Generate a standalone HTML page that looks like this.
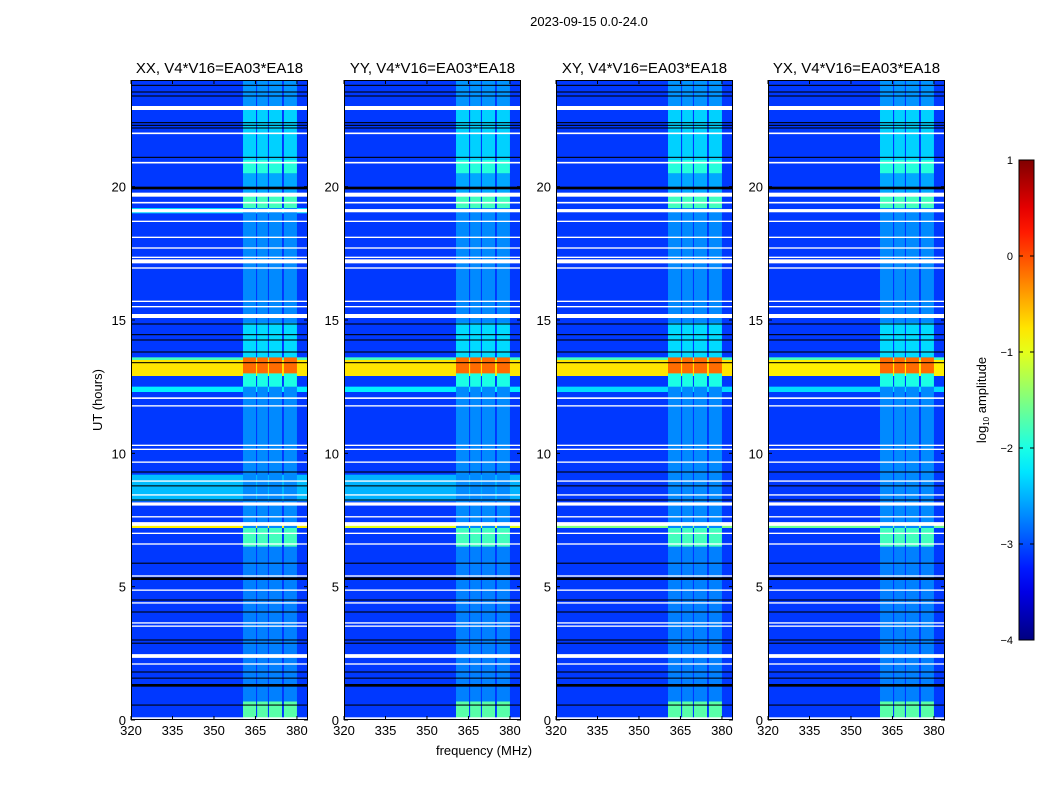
<!DOCTYPE html>
<html><head><meta charset="utf-8">
<style>
body{margin:0;background:#fff;width:1050px;height:800px;overflow:hidden;font-family:"Liberation Sans",sans-serif;}
svg text{font-family:"Liberation Sans",sans-serif;fill:#000;}
</style></head>
<body>
<svg id="fig" width="1050" height="800" xmlns="http://www.w3.org/2000/svg">
<text x="589" y="26" font-size="13" text-anchor="middle">2023-09-15 0.0-24.0</text>
<text x="102" y="400" font-size="13" text-anchor="middle" transform="rotate(-90 102 400)">UT (hours)</text>
<text x="484" y="755" font-size="13" text-anchor="middle">frequency (MHz)</text>
<g id="panels"></g>
<g id="cbar"></g>
</svg>
<script>
// ---- data ----
const panelTitles = ["XX, V4*V16=EA03*EA18","YY, V4*V16=EA03*EA18","XY, V4*V16=EA03*EA18","YX, V4*V16=EA03*EA18"];
const xTicks = [320,335,350,365,380];
const yTicks = [0,5,10,15,20];
const cbTicks = [1,0,-1,-2,-3,-4];
const baseLevel = -3.1;
// sub-band frequency edges (MHz)
const subStart = [360.5,365.6,369.9,375.3];
const subEnd   = [365.2,369.5,374.6,380.0];
// in-band level vs time segments (hours)
const bandT0 = [0, 0.7, 6.5, 7.2, 12.5, 13.0, 13.6, 14.9, 19.2, 19.7, 20.5, 21.0, 23.0];
const bandT1 = [0.7, 6.5, 7.2, 12.5, 13.0, 13.6, 14.9, 19.2, 19.7, 20.5, 21.0, 23.0, 24.0];
const bandLv = [-1.7,-2.75,-1.8,-2.7,-2.0,-0.15,-2.3,-2.7,-1.8,-2.55,-1.95,-2.35,-2.65];
// broadband events per panel (hours, level)
const bbT0 = [[12.9,13.5,12.3,8.2,7.2,19.0],[12.9,13.5,12.3,8.2,7.2],[12.9,13.5,12.3,7.2],[12.9,13.5,12.3,7.2]];
const bbT1 = [[13.5,13.6,12.5,9.2,7.3,19.2],[13.5,13.6,12.5,9.2,7.3],[13.5,13.6,12.5,7.3],[13.5,13.6,12.5,7.3]];
const bbLv = [[-0.75,-1.8,-2.2,-2.45,-0.8,-2.3],[-0.75,-1.8,-2.2,-2.5,-1.0],[-0.75,-1.8,-2.3,-1.5],[-0.8,-1.8,-2.3,-1.6]];
// flagged (white) rows: time centre, thickness (hours)
const flagT = [22.95,22.0,20.9,19.7,19.4,19.1,18.7,18.1,17.7,17.35,17.2,16.95,15.7,15.5,15.15,12.07,11.78,10.3,10.15,9.67,8.96,8.44,8.1,7.62,7.35,7.0,6.6,5.4,4.87,4.39,3.64,3.52,2.4,2.1,0.07];
const flagW = [0.15,0.06,0.06,0.15,0.06,0.12,0.05,0.05,0.05,0.05,0.15,0.05,0.05,0.05,0.15,0.06,0.05,0.05,0.05,0.05,0.05,0.05,0.12,0.05,0.14,0.05,0.05,0.05,0.05,0.05,0.05,0.05,0.14,0.05,0.06];
// black rows
const blackT = [23.8,23.55,23.4,22.4,22.3,22.2,21.1,19.95,14.85,14.45,14.25,13.8,13.4,9.3,8.78,8.25,5.88,5.3,4.5,4.05,3.0,2.88,1.8,1.57,1.3,0.56];
const blackW = [0.04,0.04,0.04,0.04,0.04,0.04,0.04,0.1,0.04,0.04,0.04,0.04,0.04,0.04,0.04,0.04,0.04,0.1,0.04,0.04,0.04,0.04,0.04,0.04,0.1,0.04];

// ---- geometry ----
const panelLeft=[131,344,556,768], PW=177, PT=80, PB=720;
const fMin=320,fMax=384,tMin=0,tMax=24;
function jet(v){const t=Math.max(0,Math.min(1,(v+4)/5));const c=x=>Math.round(255*Math.max(0,Math.min(1,1.5-Math.abs(x))));return `rgb(${c(4*t-3)},${c(4*t-2)},${c(4*t-1)})`;}
const NS="http://www.w3.org/2000/svg";
function mk(tag,attrs,parent){const e=document.createElementNS(NS,tag);for(const k in attrs)e.setAttribute(k,attrs[k]);parent.appendChild(e);return e;}
const panels=document.getElementById('panels');
panelTitles.forEach((title,p)=>{
  const L=panelLeft[p];
  const xs=f=>L+(f-fMin)/(fMax-fMin)*PW;
  const ys=t=>PB-(t-tMin)/(tMax-tMin)*(PB-PT);
  const g=mk('g',{},panels);
  
  
  const bg=mk('rect',{x:L,y:PT,width:PW,height:PB-PT,fill:jet(baseLevel)},g);
  
  
  bbT0[p].forEach((t0,i)=>{
    const r=mk('rect',{x:L,y:ys(bbT1[p][i]),width:PW,height:ys(t0)-ys(bbT1[p][i]),fill:jet(bbLv[p][i])},g);
    
    
  });
  subStart.forEach((f0,s)=>{
    bandT0.forEach((t0,i)=>{
      const r=mk('rect',{x:xs(f0),y:ys(bandT1[i]),width:xs(subEnd[s])-xs(f0),height:ys(t0)-ys(bandT1[i]),fill:jet(bandLv[i])},g);
      
      
    });
  });
  flagT.forEach((t,i)=>{
    const r=mk('rect',{x:L,y:ys(t+flagW[i]/2),width:PW,height:Math.max(1,ys(t-flagW[i]/2)-ys(t+flagW[i]/2)),fill:'#fff'},g);
    
    
  });
  blackT.forEach((t,i)=>{
    const r=mk('rect',{x:L,y:ys(t+blackW[i]/2),width:PW,height:Math.max(1,ys(t-blackW[i]/2)-ys(t+blackW[i]/2)),fill:'#000'},g);
    
    
  });
  const fr=mk('rect',{x:L+0.5,y:PT+0.5,width:PW-1,height:PB-PT-1,fill:'none',stroke:'#000','stroke-width':1},g);
  
  
  const tt=mk('text',{x:L+PW/2,y:73,'font-size':15,'text-anchor':'middle'},g);
  tt.textContent=title;
  
  
  xTicks.forEach(v=>{
    const x=xs(v);
    mk('line',{x1:x,x2:x,y1:PB,y2:PB-4,stroke:'#000'},g);
    mk('line',{x1:x,x2:x,y1:PT,y2:PT+4,stroke:'#000'},g);
    const t=mk('text',{x:x,y:PB+15,'font-size':13,'text-anchor':'middle'},g);
    t.textContent=v;
    
    
  });
  yTicks.forEach(v=>{
    const y=ys(v);
    mk('line',{x1:L,x2:L+4,y1:y,y2:y,stroke:'#000'},g);
    mk('line',{x1:L+PW,x2:L+PW-4,y1:y,y2:y,stroke:'#000'},g);
    const t=mk('text',{x:L-5,y:y+5,'font-size':13,'text-anchor':'end'},g);
    t.textContent=v;
    
    
  });
});
const cb=document.getElementById('cbar');
const CX=1019,CW=15,CT=160,CB=640;
const cys=v=>CB-(v+4)/5*(CB-CT);
const defs=mk('defs',{},cb);
const grad=mk('linearGradient',{id:'jetg',x1:0,y1:1,x2:0,y2:0},defs);
for(let i=0;i<=20;i++){mk('stop',{offset:(i/20),'stop-color':jet(-4+5*i/20)},grad);}
const cr=mk('rect',{x:CX,y:CT,width:CW,height:CB-CT,fill:'url(#jetg)',stroke:'#000','stroke-width':1},cb);


cbTicks.forEach(v=>{
  const y=cys(v);
  mk('line',{x1:CX,x2:CX+4,y1:y,y2:y,stroke:'#000'},cb);
  mk('line',{x1:CX+CW,x2:CX+CW-4,y1:y,y2:y,stroke:'#000'},cb);
  const t=mk('text',{x:CX-6,y:y+4,'font-size':11,'text-anchor':'end'},cb);
  t.textContent=v<0?'\u2212'+(-v):v;
  
  
});
const cl=mk('text',{x:986,y:400,'font-size':13,'text-anchor':'middle',transform:'rotate(-90 986 400)'},cb);
cl.innerHTML='log<tspan font-size="8" dy="3">10</tspan><tspan dy="-3"> amplitude</tspan>';


</script>
</body></html>
